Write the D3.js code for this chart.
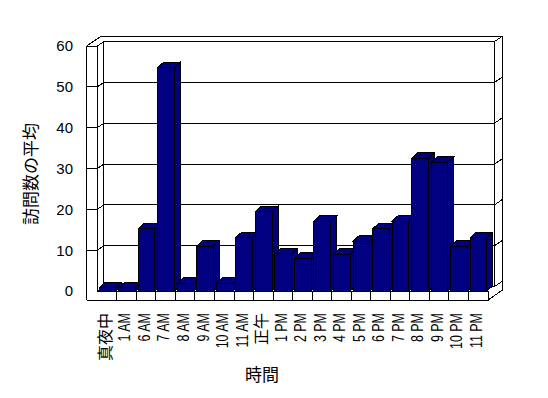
<!DOCTYPE html>
<meta charset="utf-8">
<script src="https://d3js.org/d3.v7.min.js"></script>
<style>
  body { margin: 0; background: #fff; }
  text { font-family: "Liberation Sans", "Noto Sans CJK JP", sans-serif; fill: #000; }
  path, rect { shape-rendering: crispEdges; }
</style>
<div id="chart"></div>
<script>
// data
const hours = ["真夜中", "1 AM", "6 AM", "7 AM", "8 AM", "9 AM", "10 AM", "11 AM", "正午",
  "1 PM", "2 PM", "3 PM", "4 PM", "5 PM", "6 PM", "7 PM", "8 PM", "9 PM", "10 PM", "11 PM"];
const visits = [0.8, 0.8, 15.2, 54.7, 1.9, 11.0, 1.9, 13.1, 19.4,
  9.1, 8.0, 17.1, 9.0, 12.2, 15.2, 17.1, 32.5, 31.5, 11.0, 13.1];
const yTicks = [0, 10, 20, 30, 40, 50, 60];
const yTitle = "訪問数の平均";
const xTitle = "時間";

const width = 548, height = 398;

// front plane of the 3d box
const fx0 = 97.3, fx1 = 488, fy0 = 291, fyTop = 46;
const wallW = 10.6, floorH = 9;
const D = [6.6, -4.5];   // front -> back wall face
const T = [8, -5.5];     // back wall thickness
const B = [6, -5.5];     // bar depth

const svg = d3.select("#chart").append("svg")
  .attr("width", width).attr("height", height);

const x = d3.scaleBand().domain(hours).range([fx0, fx1]).padding(0);
const y = d3.scaleLinear().domain([0, 60]).range([fy0, fyTop]);

const line = (pts) => "M" + pts.map(p => p.join(",")).join("L");
const ink = svg.append("g").attr("fill", "none").attr("stroke", "#000").attr("stroke-width", 1);

// back wall back face (outer outline) + right end face
const bx = fx1 + D[0] + T[0];
ink.append("path").attr("d", line([
  [fx0 - wallW, fyTop],
  [fx0 - wallW + D[0] + T[0], fyTop + D[1] + T[1]],
  [bx, fyTop + D[1] + T[1]],
  [bx, fy0 + floorH + D[1] + T[1]],
  [fx1, fy0 + floorH]
]));
ink.append("path").attr("d", line([
  [fx1 + D[0], fyTop + D[1]], [bx, fyTop + D[1] + T[1]]
]));

// back wall front face
ink.append("path").attr("d", line([
  [fx0 + D[0], fy0 + D[1]],
  [fx0 + D[0], fyTop + D[1]],
  [fx1 + D[0], fyTop + D[1]],
  [fx1 + D[0], fy0 + D[1]]
]));
ink.append("path").attr("d", line([[fx0, fyTop], [fx0 + D[0], fyTop + D[1]]]));

// gridlines
yTicks.forEach(v => {
  const yy = y(v);
  if (v > 0 && v < 60) {
    ink.append("path").attr("d", line([[fx0 - wallW, yy], [fx0, yy]]));
  }
  ink.append("path").attr("d", line([
    [fx0, yy], [fx0 + D[0], yy + D[1]], [fx1 + D[0], yy + D[1]], [bx, yy + D[1] + T[1]]
  ]));
});

// left wall front face
ink.append("path").attr("d", line([
  [fx0 - wallW, fy0 + floorH], [fx0 - wallW, fyTop], [fx0, fyTop], [fx0, fy0]
]));

// floor front face
ink.append("path").attr("d", line([[fx0 - wallW, fy0 + floorH], [fx1, fy0 + floorH], [fx1, fy0], [fx0, fy0]]));
hours.forEach((h, i) => {
  if (i === 0) return;
  ink.append("path").attr("d", line([[x(h), fy0], [x(h), fy0 + floorH]]));
});

// bars
const bw = x.bandwidth() * 0.855, off = 1.8;
const bars = svg.append("g").attr("fill", "#000080").attr("stroke", "#000").attr("stroke-width", 1)
  .selectAll("g").data(hours.map((h, i) => ({ h, v: visits[i] }))).join("g");
bars.append("path").attr("d", d => {
  const x0 = x(d.h) + off, yt = y(d.v);
  return line([[x0 + bw, yt], [x0 + bw + B[0], yt + B[1]], [x0 + bw + B[0], fy0 + B[1]], [x0 + bw, fy0]]) + "Z";
});
bars.append("path").attr("d", d => {
  const x0 = x(d.h) + off, yt = y(d.v);
  return line([[x0, yt], [x0 + B[0], yt + B[1]], [x0 + bw + B[0], yt + B[1]], [x0 + bw, yt]]) + "Z";
});
bars.append("rect")
  .attr("x", d => x(d.h) + off).attr("y", d => y(d.v))
  .attr("width", bw).attr("height", d => fy0 - y(d.v));

// y tick labels
svg.append("g").selectAll("text").data(yTicks).join("text")
  .attr("x", 73).attr("y", d => y(d)).attr("dy", "0.36em")
  .attr("text-anchor", "end").attr("font-size", 15)
  .text(d => d);

// x tick labels, rotated
svg.append("g").selectAll("text").data(hours).join("text")
  .attr("transform", d => {
    const s = /[A-Za-z]/.test(d) ? 0.78 : 1;
    return `translate(${x(d) + x.bandwidth() / 2 - 2},313) rotate(-90) scale(${s},1)`;
  })
  .attr("text-anchor", "end").attr("dy", "0.36em").attr("font-size", 16)
  .text(d => d);

// axis titles
svg.append("text")
  .attr("x", 262).attr("y", 375).attr("dy", "0.36em")
  .attr("text-anchor", "middle").attr("font-size", 17)
  .text(xTitle);
svg.append("text")
  .attr("transform", "translate(31,174) rotate(-90)")
  .attr("dy", "0.36em").attr("text-anchor", "middle").attr("font-size", 17)
  .text(yTitle);
</script>
